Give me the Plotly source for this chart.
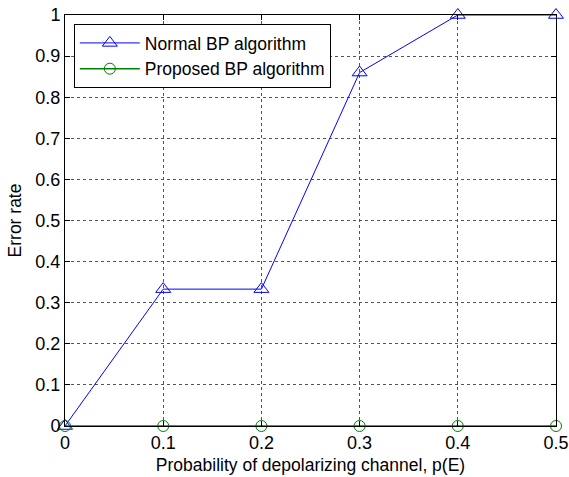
import plotly.graph_objects as go

p_vals = [0, 0.1, 0.2, 0.3, 0.4, 0.5]
normal_bp = [0, 0.333, 0.333, 0.86, 1.0, 1.0]
proposed_bp = [0, 0, 0, 0, 0, 0]
x_ticks = [0, 0.1, 0.2, 0.3, 0.4, 0.5]
y_ticks = [0, 0.1, 0.2, 0.3, 0.4, 0.5, 0.6, 0.7, 0.8, 0.9, 1]

FONT = "Arial, 'Liberation Sans', sans-serif"

fig = go.Figure()
fig.add_trace(go.Scatter(
    x=p_vals, y=normal_bp, name="Normal BP algorithm", mode="lines+markers",
    line=dict(color="#0000FF", width=1),
    marker=dict(symbol="triangle-up-open", size=13, color="#0000FF", line=dict(width=1)),
    cliponaxis=False))
fig.add_trace(go.Scatter(
    x=p_vals, y=proposed_bp, name="Proposed BP algorithm", mode="lines+markers",
    line=dict(color="#008000", width=1.5),
    marker=dict(symbol="circle-open", size=11, color="#008000", line=dict(width=1)),
    cliponaxis=False))

axis_common = dict(
    showline=True, linecolor="black", linewidth=1, mirror="ticks",
    ticks="inside", ticklen=5, tickcolor="black",
    showgrid=True, gridcolor="#555555", griddash="dot", gridwidth=1,
    zeroline=False, automargin=False, ticklabeloverflow="allow",
    tickfont=dict(family=FONT, size=18, color="black"),
)

fig.update_xaxes(range=[0, 0.5], tickvals=x_ticks, ticktext=[str(v) for v in x_ticks],
                 title=dict(text="Probability of depolarizing channel, p(E)", standoff=7,
                            font=dict(family=FONT, size=17.5, color="black")),
                 **axis_common)
fig.update_yaxes(range=[0, 1], tickvals=y_ticks, ticktext=[("%g" % v) for v in y_ticks],
                 title=dict(text="Error rate", standoff=9,
                            font=dict(family=FONT, size=17.5, color="black")),
                 **axis_common)

fig.update_layout(
    width=569, height=477,
    margin=dict(l=65, r=13, t=15, b=51, autoexpand=False),
    paper_bgcolor="white", plot_bgcolor="white",
    font=dict(family=FONT, size=17.5, color="black"),
    legend=dict(x=0.018, y=0.978, xanchor="left", yanchor="top",
                bordercolor="black", borderwidth=1, bgcolor="white",
                font=dict(size=17.5), tracegroupgap=0, itemwidth=60),
)

# remove the browser's default 8px body margin so the figure fills the window exactly
fig.write_html("out.html", config={"displayModeBar": False},
               post_script="document.body.style.margin='0';document.body.style.overflow='hidden';")
